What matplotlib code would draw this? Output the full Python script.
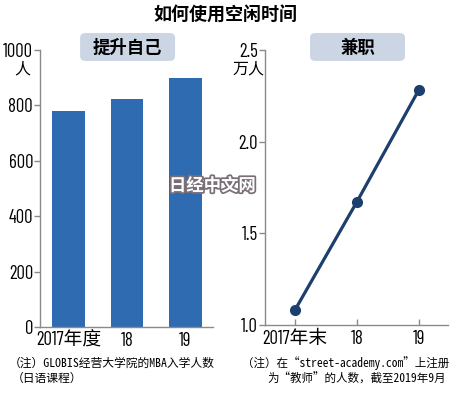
import matplotlib
matplotlib.use('Agg')
import matplotlib.pyplot as plt
import matplotlib.patheffects as pe
from matplotlib.patches import FancyBboxPatch

plt.rcParams['font.family'] = ['Barlow Condensed', 'Noto Sans CJK SC', 'DejaVu Sans']

# data
left_cats = ['2017年度', '18', '19']
left_vals = [780, 823, 900]
left_yticks = [0, 200, 400, 600, 800, 1000]

right_cats = ['2017年末', '18', '19']
right_vals = [1.08, 1.67, 2.28]
right_yticks = [1.0, 1.5, 2.0, 2.5]

bar_color = '#2e6bb0'
line_color = '#1d3f6e'
spine_color = '#8a8a8a'
box_color = '#cbd5e4'
cjk = ['Noto Sans CJK SC', 'DejaVu Sans']
note_font = ['Noto Sans Mono CJK SC', 'Noto Sans CJK SC', 'DejaVu Sans']

fig = plt.figure(figsize=(4.5, 3.93), dpi=100)

# left panel - bars
ax1 = fig.add_axes([0.089, 0.168, 0.384, 0.705])
xs = list(range(len(left_cats)))
ax1.bar(xs, left_vals, width=0.56, color=bar_color)
ax1.set_xlim(-0.49, 2.47)
ax1.set_ylim(0, 1000)
ax1.set_yticks(left_yticks)
ax1.set_yticklabels([str(v) for v in left_yticks])
ax1.set_xticks(xs)
ax1.set_xticklabels(left_cats)
ax1.tick_params(axis='x', length=0, pad=3.5, labelsize=13.5)
ax1.tick_params(axis='y', length=4, width=1, color=spine_color, pad=1, labelsize=13.5)
for s in ['top', 'right']:
    ax1.spines[s].set_visible(False)
for s in ['left', 'bottom']:
    ax1.spines[s].set_color(spine_color)
    ax1.spines[s].set_linewidth(1)
ax1.text(-0.105, 0.93, '人', transform=ax1.transAxes, ha='center', va='center',
         fontsize=11.5, family=cjk)

# right panel - line
ax2 = fig.add_axes([0.589, 0.173, 0.406, 0.70])
xs2 = list(range(len(right_cats)))
ax2.plot(xs2, right_vals, color=line_color, lw=2.3, marker='o', markersize=7)
ax2.set_xlim(-0.48, 2.47)
ax2.set_ylim(1.0, 2.5)
ax2.set_yticks(right_yticks)
ax2.set_yticklabels(['%.1f' % v for v in right_yticks])
ax2.set_xticks(xs2)
ax2.set_xticklabels(right_cats)
ax2.tick_params(axis='x', direction='in', length=4, width=1, color=spine_color, pad=3.5, labelsize=13.5)
ax2.tick_params(axis='y', length=4, width=1, color=spine_color, pad=1, labelsize=13.5)
for s in ['top', 'right']:
    ax2.spines[s].set_visible(False)
for s in ['left', 'bottom']:
    ax2.spines[s].set_color(spine_color)
    ax2.spines[s].set_linewidth(1)
ax2.text(-0.09, 0.93, '万人', transform=ax2.transAxes, ha='center', va='center',
         fontsize=11.5, family=cjk)

# titles
fig.text(0.5, 0.962, '如何使用空闲时间', ha='center', va='center', fontsize=13,
         fontweight='bold', family=cjk)
for bx, label in [(0.178, '提升自己'), (0.689, '兼职')]:
    fig.patches.append(FancyBboxPatch((bx, 0.845), 0.211, 0.071,
                                      boxstyle='round,pad=0,rounding_size=0.012',
                                      fc=box_color, ec='none', transform=fig.transFigure))
    fig.text(bx + 0.1055, 0.879, label, ha='center', va='center', fontsize=12.5,
             fontweight='bold', family=cjk)

# notes
fig.text(0.02, 0.075, '（注）GLOBIS经营大学院的MBA入学人数', ha='left', va='center',
         fontsize=8.5, family=note_font)
fig.text(0.025, 0.036, '（日语课程）', ha='left', va='center', fontsize=8.5, family=note_font)
fig.text(0.538, 0.075, '（注）在“street-academy.com”上注册', ha='left', va='center',
         fontsize=8.3, family=note_font)
fig.text(0.595, 0.036, '为“教师”的人数，截至2019年9月', ha='left', va='center',
         fontsize=8.3, family=note_font)

# watermark
fig.text(0.472, 0.527, '日经中文网', ha='center', va='center', fontsize=12.5,
         fontweight='bold', family=cjk, color='white',
         path_effects=[pe.withStroke(linewidth=2.5, foreground='#7a6f78')])

fig.savefig('out.png', dpi=100)
